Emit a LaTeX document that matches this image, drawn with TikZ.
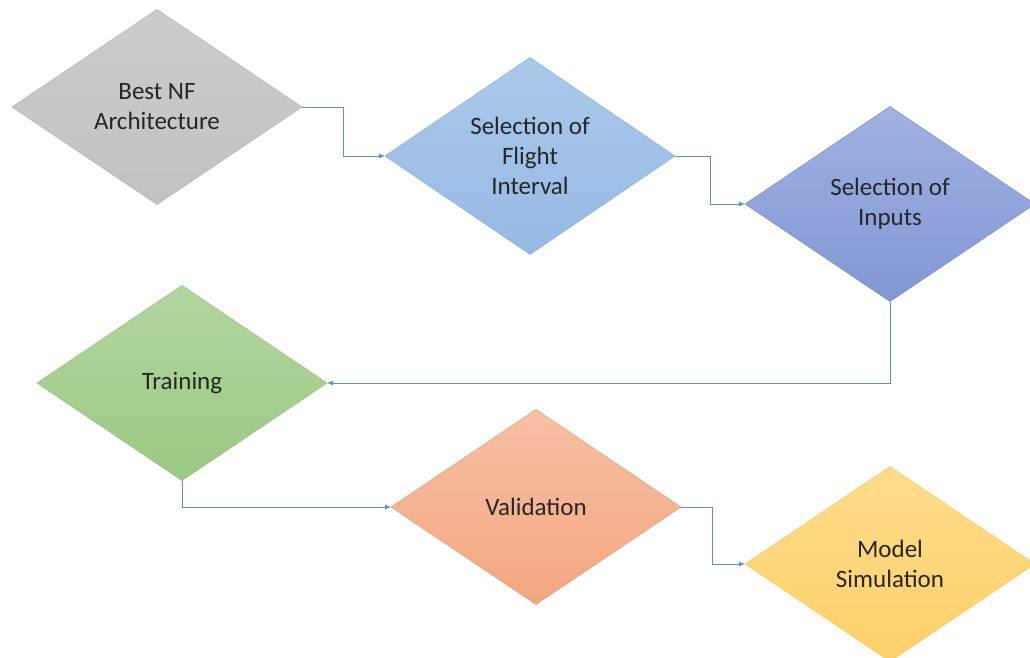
\documentclass[tikz,border=0pt]{standalone}
\usepackage{fontspec}
\setmainfont{Carlito}
\usetikzlibrary{shapes.geometric,arrows.meta}
\definecolor{conncol}{HTML}{5B8FCB}
\definecolor{txtcol}{HTML}{262626}
\tikzset{
  dia/.style={shape=diamond, inner sep=0pt, outer sep=0pt,
    minimum width=290pt, minimum height=195pt, align=center,
    text=txtcol, font=\fontsize{25}{30}\selectfont, line width=0.5pt},
  conn/.style={draw=conncol, line width=0.9pt, -{Latex[length=6pt,width=5pt]}}
}
\begin{document}
\begin{tikzpicture}[x=1pt,y=-1pt]
\useasboundingbox (0,0) rectangle (1030,658);
\clip (0,0) rectangle (1030,658);
\fill[white] (0,0) rectangle (1030,658);
\node[dia, top color=gray!40, bottom color=gray!48, draw=gray!60] (d1) at (157,107) {Best NF\\Architecture};
\node[dia, top color={rgb,255:red,170;green,200;blue,234}, bottom color={rgb,255:red,150;green,185;blue,228}, draw={rgb,255:red,140;green,175;blue,220}] (d2) at (530,156) {Selection of\\Flight\\Interval};
\node[dia, top color={rgb,255:red,160;green,178;blue,226}, bottom color={rgb,255:red,130;green,150;blue,212}, draw={rgb,255:red,120;green,140;blue,205}] (d3) at (890,204) {Selection of\\Inputs};
\node[dia, top color={rgb,255:red,178;green,214;blue,160}, bottom color={rgb,255:red,155;green,200;blue,130}, draw={rgb,255:red,145;green,190;blue,120}] (d4) at (182,383) {Training};
\node[dia, top color={rgb,255:red,247;green,192;blue,165}, bottom color={rgb,255:red,243;green,166;blue,128}, draw={rgb,255:red,235;green,155;blue,115}] (d5) at (536,507) {Validation};
\node[dia, top color={rgb,255:red,255;green,220;blue,140}, bottom color={rgb,255:red,253;green,208;blue,105}, draw={rgb,255:red,245;green,200;blue,100}] (d6) at (890,564) {Model\\Simulation};
\draw[conn] (d1.east) -- ++(41,0) |- (d2.west);
\draw[conn] (d2.east) -- ++(35,0) |- (d3.west);
\draw[conn] (d3.south) |- (d4.east);
\draw[conn] (d4.south) |- (d5.west);
\draw[conn] (d5.east) -- ++(31,0) |- (d6.west);
\end{tikzpicture}
\end{document}
